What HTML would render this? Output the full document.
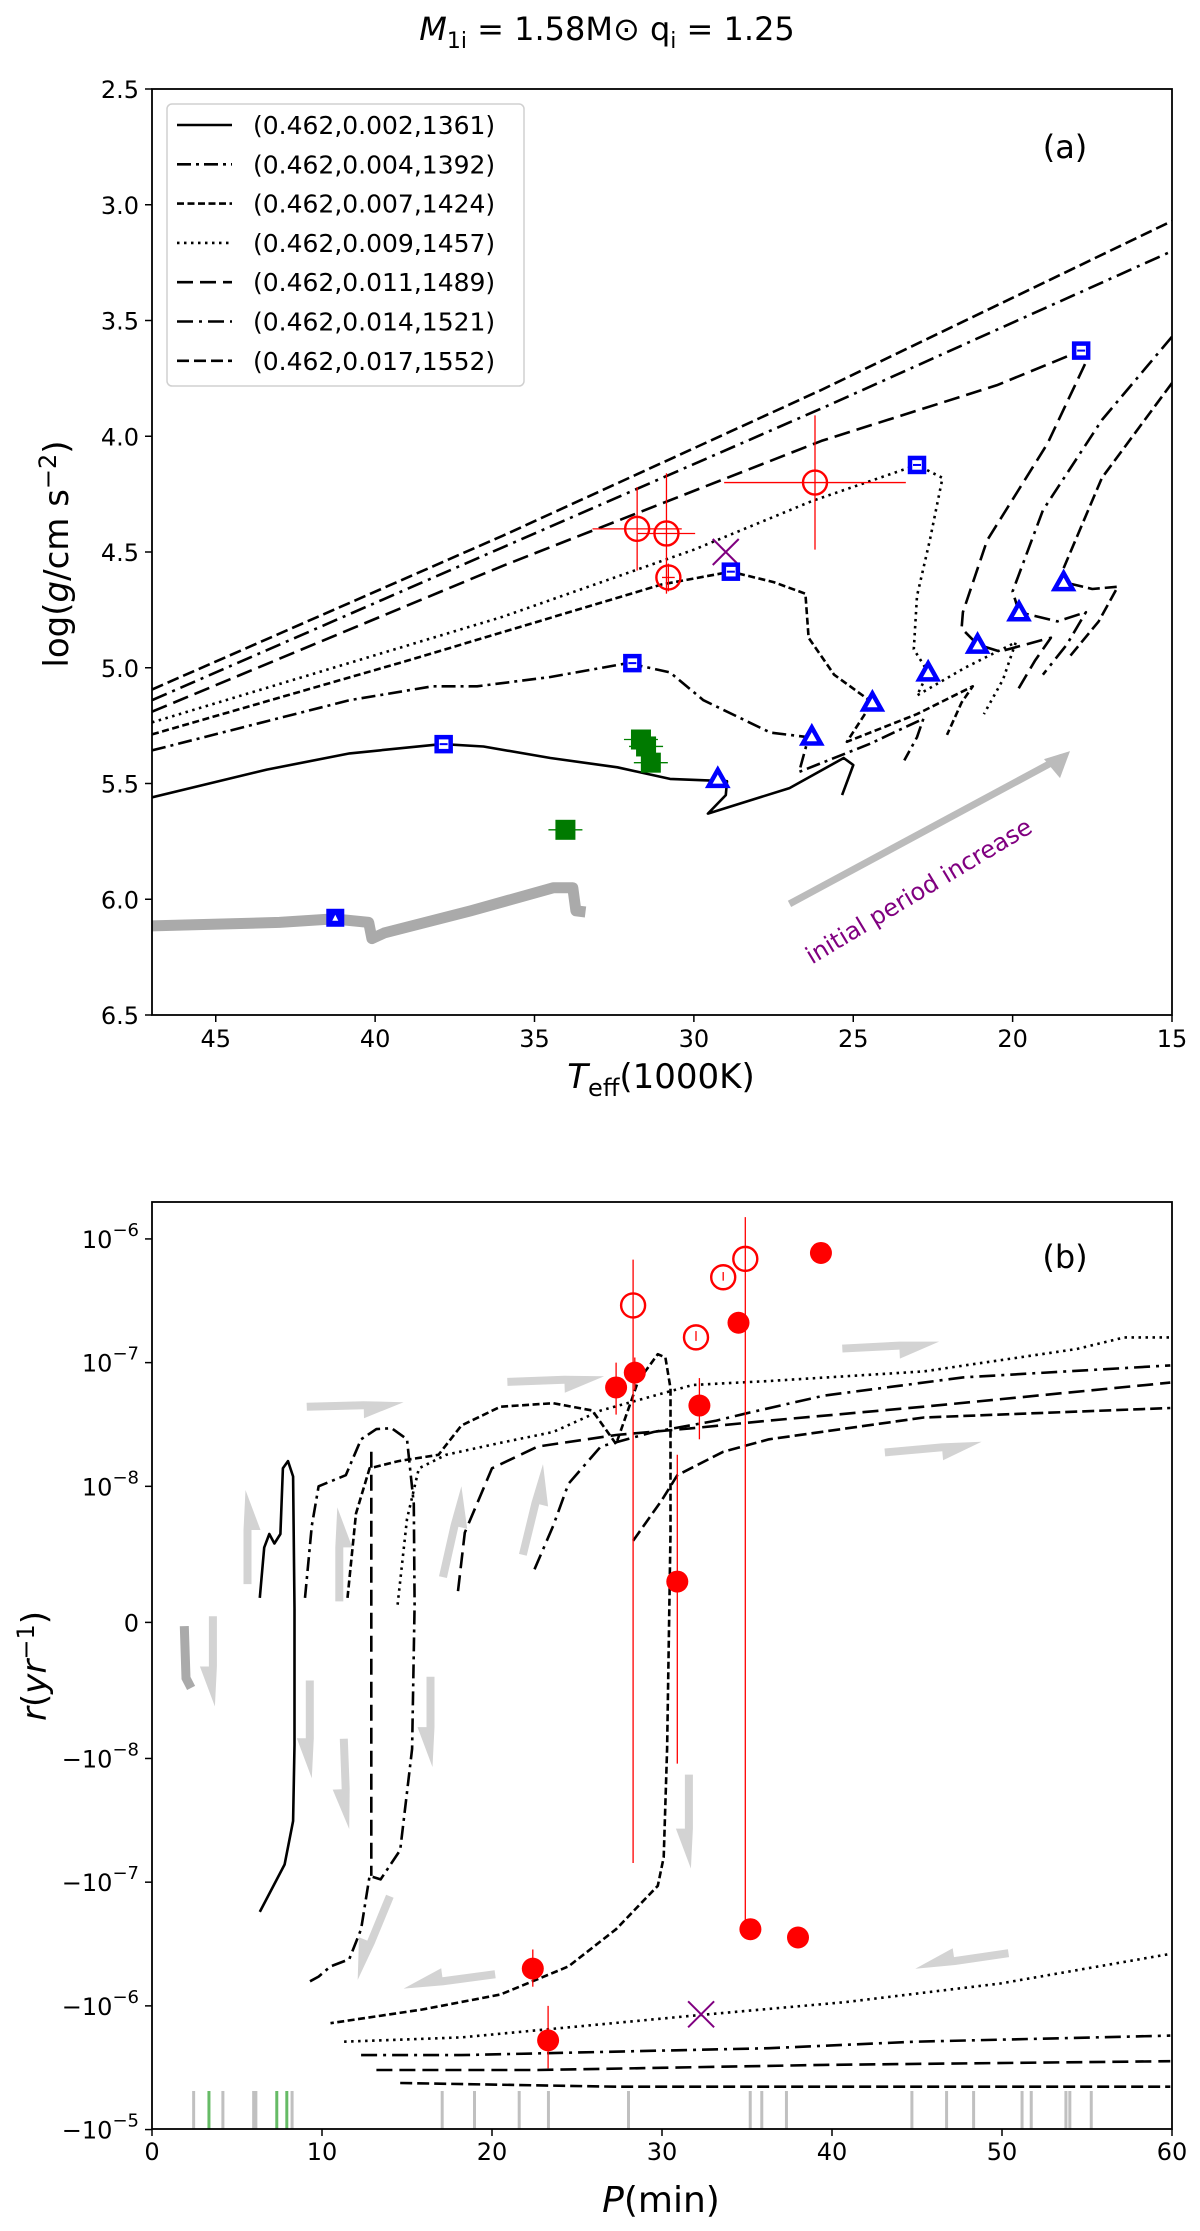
<!DOCTYPE html>
<html><head><meta charset="utf-8">
<style>
html,body{margin:0;padding:0;background:#fff;}
svg{display:block;font-family:"DejaVu Sans","Liberation Sans",sans-serif;}
</style></head>
<body>
<svg id="fig" width="1200" height="2231" viewBox="0 0 1200 2231" xmlns="http://www.w3.org/2000/svg">
<text x="607" y="40" font-size="32" text-anchor="middle"><tspan font-style="italic">M</tspan><tspan font-size="22" dy="8">1i</tspan><tspan dy="-8"> = 1.58M</tspan><tspan>⊙</tspan><tspan> q</tspan><tspan font-size="22" dy="8">i</tspan><tspan dy="-8"> = 1.25</tspan></text>
<g id="panelA"></g>
<g id="panelB"></g>
</svg>
<script>
// ---------------- Panel (a) data: [Teff(1000K), log g] ----------------
const trackA_0002 = [[47,5.56],[43.4,5.44],[40.8,5.37],[37.9,5.33],[36.6,5.34],[34.5,5.39],[32.4,5.43],[30.75,5.48],[28.96,5.49],[29.0,5.55],[29.56,5.63],[27,5.52],[25.3,5.39],[25.0,5.42],[25.35,5.55]];
const trackA_0004 = [[47,5.357],[40.8,5.14],[38.2,5.08],[36.8,5.08],[34.5,5.04],[32.07,4.98],[30.75,5.02],[29.7,5.14],[27.6,5.28],[26.4,5.30],[26.7,5.45],[24.5,5.33],[22.8,5.22],[23.0,5.30],[23.4,5.40]];
const trackA_0007 = [[47,5.288],[39,4.97],[31,4.64],[28.84,4.585],[27.5,4.63],[26.5,4.68],[26.4,4.87],[25.6,5.03],[24.4,5.15],[25.2,5.32],[23,5.2],[21.25,5.08],[21.6,5.15],[22.06,5.29]];
const trackA_0009 = [[47,5.236],[36,4.78],[30,4.49],[26.3,4.28],[23.0,4.124],[22.2,4.18],[22.6,4.45],[23.0,4.69],[23.1,4.92],[22.65,5.02],[23.0,5.12],[21.5,5.0],[19.9,4.89],[20.3,5.05],[20.9,5.2]];
const trackA_0011 = [[47,5.19],[36,4.56],[26,4.02],[20.5,3.78],[17.85,3.63],[17.7,3.68],[18.9,4.03],[20.8,4.45],[21.56,4.76],[21.6,4.83],[21.1,4.90],[20.4,4.93],[18.8,4.87],[19.3,4.97],[19.9,5.11]];
const trackA_0014 = [[47,5.14],[36,4.48],[26,3.88],[15,3.2]];
const trackA_0014b = [[15,3.57],[17.2,3.93],[19.05,4.32],[20.0,4.67],[19.8,4.76],[18.6,4.8],[17.7,4.76],[18.3,4.9],[19.05,5.03]];
const trackA_0017 = [[47,5.094],[36,4.43],[26,3.8],[15,3.07]];
const trackA_0017b = [[15,3.77],[17.2,4.18],[18.4,4.57],[18.4,4.63],[17.5,4.66],[16.7,4.65],[17.3,4.8],[18.2,4.95]];
const greyTrackA = [[47,6.115],[43,6.1],[41.3,6.085],[40.2,6.10],[40.1,6.17],[39.7,6.145],[37,6.05],[34.4,5.95],[33.8,5.95],[33.7,6.05],[33.4,6.055]];
const squaresA = [[37.85,5.33],[31.93,4.98],[28.84,4.585],[23.0,4.124],[17.85,3.63]];
const trianglesA = [[29.25,5.48],[26.3,5.297],[24.4,5.15],[22.65,5.02],[21.1,4.90],[19.8,4.76],[18.4,4.63]];
const obsTeffA = [31.78,30.86,30.8,26.2];
const obsLoggA = [4.40,4.42,4.61,4.20];
const obsTeffErrA = [1.4,0.9,0.2,2.85];
const obsLoggErrA = [0.18,0.26,0.06,0.29];
const greenTeffA = [31.66,31.5,31.35,34.03];
const greenLoggA = [5.31,5.34,5.41,5.70];
const crossA = [29.0,4.5];
const blueFilledA = [41.25,6.08];

// ---------------- Panel (b) data: [P(min), r(1/yr)] ----------------
const trackB_0002 = [[6.34,1.8e-9],[6.6,5.5e-9],[6.9,6.5e-9],[7.2,5.8e-9],[7.55,6.5e-9],[7.7,1.4e-8],[8.0,1.6e-8],[8.3,1.2e-8],[8.38,1e-9],[8.38,-9e-9],[8.3,-3.2e-8],[7.8,-7.2e-8],[6.34,-1.74e-7]];
const trackB_0004 = [[9.0,1.8e-9],[9.4,7.1e-9],[9.8,1.0e-8],[11.4,1.23e-8],[12.3,2.4e-8],[13.2,2.9e-8],[14.1,2.95e-8],[15.0,2.4e-8],[15.4,8.7e-9],[15.45,1.3e-9],[15.3,-9.3e-9],[14.6,-5.5e-8],[13.45,-9.5e-8],[12.8,-8.9e-8],[12.3,-2.4e-7],[11.6,-4.2e-7],[10.5,-4.8e-7],[9.8,-5.8e-7],[9.06,-6.6e-7]];
const trackB_0007 = [[11.5,1.8e-9],[12.0,8e-9],[12.8,1.4e-8],[14.5,1.6e-8],[16.85,1.8e-8],[18.2,3.1e-8],[20.5,4.4e-8],[23.6,4.7e-8],[25.9,4.1e-8],[27.3,2.2e-8],[28.6,7.1e-8],[29.75,1.17e-7],[30.2,1.1e-7],[30.5,6.2e-8],[30.5,6.6e-9],[30.3,-9.3e-9],[30.1,-6.3e-8],[29.75,-1.07e-7],[27.3,-2.4e-7],[24.5,-4.8e-7],[20.5,-8.1e-7],[15.9,-1.07e-6],[10.5,-1.38e-6]];
const trackB_0009 = [[14.45,1.3e-9],[15.0,7.6e-9],[15.7,1.4e-8],[17.3,1.8e-8],[20.5,2.25e-8],[23.6,2.75e-8],[26.4,4.1e-8],[31.8,6.6e-8],[36.3,7.1e-8],[45.4,8.5e-8],[54.4,1.29e-7],[57.2,1.6e-7],[59.9,1.6e-7]];
const trackB_0009b = [[11.3,-1.95e-6],[18.2,-1.8e-6],[31.8,-1.2e-6],[40.85,-9.3e-7],[49.9,-6.6e-7],[59.9,-3.8e-7]];
const trackB_0011 = [[18.0,2.3e-9],[18.4,6.6e-9],[20.0,1.4e-8],[22.7,2.1e-8],[27.3,2.6e-8],[31.8,2.95e-8],[36.3,3.4e-8],[45.4,4.4e-8],[59.9,6.9e-8]];
const trackB_0011v = [[12.9,1.9e-8],[12.9,-8.9e-8]];
const trackB_0011b = [[13.2,-3.3e-6],[22.7,-3.3e-6],[39.5,-3.0e-6],[59.9,-2.8e-6]];
const trackB_0014 = [[22.5,3.9e-9],[23.6,7.1e-9],[24.5,1.05e-8],[26.4,2.1e-8],[29.5,2.75e-8],[33.2,3.4e-8],[35.0,3.9e-8],[39.5,5.4e-8],[47.7,7.6e-8],[59.9,9.5e-8]];
const trackB_0014b = [[12.3,-2.5e-6],[18.2,-2.5e-6],[36.3,-2.2e-6],[44.9,-1.95e-6],[59.9,-1.74e-6]];
const trackB_0017 = [[28.3,6e-9],[30.0,9e-9],[30.9,1.23e-8],[33.6,1.9e-8],[36.3,2.4e-8],[45.4,3.6e-8],[59.9,4.3e-8]];
const trackB_0017b = [[14.6,-4.2e-6],[27.3,-4.5e-6],[59.9,-4.5e-6]];
const filledP = [27.3,28.4,32.2,34.5,39.35,30.9,35.2,38.0,22.4,23.3];
const filledR = [6.3e-8,8.3e-8,4.5e-8,2.1e-7,7.7e-7,3.0e-9,-2.4e-7,-2.8e-7,-5e-7,-1.9e-6];
const filledLo = [3.8e-8,6.0e-8,2.4e-8,2.1e-7,7.7e-7,-1.1e-8,-2.4e-7,-2.8e-7,-3.5e-7,-1.0e-6];
const filledHi = [1.0e-7,1.1e-7,7.5e-8,2.1e-7,7.7e-7,1.8e-8,-2.4e-7,-2.8e-7,-7e-7,-3.2e-6];
const openP = [28.3,32.0,33.6,34.9];
const openR = [2.9e-7,1.6e-7,4.9e-7,6.9e-7];
const openLo = [-7e-8,1.5e-7,4.6e-7,-2.4e-7];
const openHi = [6.8e-7,1.8e-7,5.4e-7,1.5e-6];
const crossB = [32.3,-1.17e-6];
const rugGreyP = [2.45,4.17,5.98,6.11,8.24,17.07,18.97,21.6,23.32,28.03,35.19,35.87,37.32,44.7,46.74,48.33,51.18,51.72,53.76,53.99,55.25];
const rugGreenP = [3.35,7.34,7.93];
const xTicksB = [0,10,20,30,40,50,60];
const yTicksB = [1e-6,1e-7,1e-8,0,-1e-8,-1e-7,-1e-6,-1e-5];
const yTickLabelsB = [["10","−6"],["10","−7"],["10","−8"],["0",""],["−10","−8"],["−10","−7"],["−10","−6"],["−10","−5"]];
const xTicksA = [45,40,35,30,25,20,15];
const yTicksA = [2.5,3.0,3.5,4.0,4.5,5.0,5.5,6.0,6.5];
const legendLabels = ["(0.462,0.002,1361)","(0.462,0.004,1392)","(0.462,0.007,1424)","(0.462,0.009,1457)","(0.462,0.011,1489)","(0.462,0.014,1521)","(0.462,0.017,1552)"];
const arrowsB = [[9.1,1.76,14.8,1.78],[20.9,1.96,26.6,1.99],[40.6,2.23,46.3,2.27],[43.1,1.39,48.8,1.46],[5.5,0.31,5.5,1.07],[10.9,0.17,10.9,0.93],[17.0,0.37,18.2,1.10],[21.7,0.55,23.0,1.28],[3.7,0.05,3.7,-0.68],[9.4,-0.47,9.4,-1.26],[11.4,-0.94,11.6,-1.67],[16.5,-0.44,16.5,-1.17],[31.7,-1.23,31.7,-1.99],[14.1,-2.22,12.1,-2.89],[20.2,-2.86,14.8,-2.96],[50.4,-2.69,44.9,-2.80]];

const NS = "http://www.w3.org/2000/svg";
const dashes = {s:"", dd:"14,5,3,5", d:"7,3.5", dot:"2.5,4.5", ld:"16,7", ldd:"16,6,3,6", md:"12,5"};
const styleList = ["s","dd","d","dot","ld","ldd","md"];

function mk(parent, tag, attrs){ const e=document.createElementNS(NS,tag); for(const k in attrs) e.setAttribute(k,attrs[k]); parent.appendChild(e); return e; }

const xA = T => 152 + (47 - T) * 31.875;
const yA = g => 89 + (g - 2.5) * 231.5;
const L = 1.1;
const xB = P => 152 + P * 17;
function uOf(r){ const a=Math.abs(r); if(a<1e-8) return r/1e-8*L; return Math.sign(r)*(L+Math.log10(a)+8); }
const yU = u => 1622.4 - u * 123.7;
const yB = r => yU(uOf(r));

function poly(parent, pts, fx, fy, dash, name, w, col){
  const d = pts.map((p,i)=>(i?'L':'M')+fx(p[0]).toFixed(1)+','+fy(p[1]).toFixed(1)).join(' ');
  const el = mk(parent,'path',{d:d,fill:'none',stroke:col||'#000','stroke-width':w||2.6,'stroke-dasharray':dash,'stroke-linejoin':'round'});
  
  
  return el;
}

// ---------------- Panel A ----------------
const A = document.getElementById('panelA');
mk(A,'defs',{}).innerHTML='<clipPath id="clipA"><rect x="152" y="89" width="1020" height="926"/></clipPath><clipPath id="clipB"><rect x="152" y="1202" width="1020" height="927"/></clipPath>';
const gA = mk(A,'g',{'clip-path':'url(#clipA)'});


poly(gA, greyTrackA, xA, yA, '', 'grey-track', 11, '#aaaaaa');
const tracksA = [[trackA_0002],[trackA_0004],[trackA_0007],[trackA_0009],[trackA_0011],[trackA_0014,trackA_0014b],[trackA_0017,trackA_0017b]];
tracksA.forEach((segs,i)=>segs.forEach(s=>poly(gA, s, xA, yA, dashes[styleList[i]], 'track-a-'+i)));

{
  const x1=xA(27.0),y1=yA(6.02),x2=xA(18.2),y2=yA(5.36);
  const ln = mk(gA,'line',{x1:x1,y1:y1,x2:x2-8,y2:y2+6,stroke:'#bbbbbb','stroke-width':7});
  
  
  const hd = mk(gA,'polygon',{points:`${x2},${y2} ${x2-26},${y2+8} ${x2-10},${y2+27}`,fill:'#bbbbbb'});
  
  
  const t = mk(gA,'text',{x:923,y:898,'font-size':24,fill:'#800080','text-anchor':'middle',transform:'rotate(-31 923 898)'});
  t.textContent='initial period increase';
  
  
}
obsTeffA.forEach((T,i)=>{
  const g=obsLoggA[i];
  const e1=mk(gA,'line',{x1:xA(T+obsTeffErrA[i]),x2:xA(T-obsTeffErrA[i]),y1:yA(g),y2:yA(g),stroke:'red','stroke-width':1.3});
   
  const e2=mk(gA,'line',{x1:xA(T),x2:xA(T),y1:yA(g-obsLoggErrA[i]),y2:yA(g+obsLoggErrA[i]),stroke:'red','stroke-width':1.3});
   
  const c=mk(gA,'circle',{cx:xA(T),cy:yA(g),r:12,fill:'none',stroke:'red','stroke-width':2.4});
   
});
greenTeffA.forEach((T,i)=>{
  const g=greenLoggA[i];
  const e=mk(gA,'line',{x1:xA(T)-17,x2:xA(T)+17,y1:yA(g),y2:yA(g),stroke:'green','stroke-width':1.3});
   
  const r=mk(gA,'rect',{x:xA(T)-10,y:yA(g)-10,width:20,height:20,fill:'#007a00'});
   
});
{
  const cx=xA(crossA[0]),cy=yA(crossA[1]);
  const p=mk(gA,'path',{d:`M${cx-13},${cy-13}L${cx+13},${cy+13}M${cx-13},${cy+13}L${cx+13},${cy-13}`,stroke:'#800080','stroke-width':2});
   
}
squaresA.forEach(p=>{
  const r=mk(gA,'rect',{x:xA(p[0])-7,y:yA(p[1])-7,width:14,height:14,fill:'#fff',stroke:'#0000ff','stroke-width':4.5});
   
  const b=mk(gA,'rect',{x:xA(p[0])-4,y:yA(p[1])-1,width:8,height:2,fill:'#0000ff'});
   
});
trianglesA.forEach(p=>{
  const x=xA(p[0]),y=yA(p[1]);
  const t=mk(gA,'polygon',{points:`${x},${y-9} ${x-9},${y+7} ${x+9},${y+7}`,fill:'#fff',stroke:'#0000ff','stroke-width':4.5,'stroke-linejoin':'miter'});
   
});
{
  const x=xA(blueFilledA[0]),y=yA(blueFilledA[1]);
  const r=mk(gA,'rect',{x:x-9,y:y-9,width:18,height:18,fill:'#0000ff'});
   
  const t=mk(gA,'polygon',{points:`${x},${y-3} ${x-3},${y+3} ${x+3},${y+3}`,fill:'#fff'});
   
}
{
  const f=mk(A,'rect',{x:152,y:89,width:1020,height:926,fill:'none',stroke:'#000','stroke-width':1.8});
   
  xTicksA.forEach(t=>{
    const l=mk(A,'line',{x1:xA(t),x2:xA(t),y1:1015,y2:1022,stroke:'#000','stroke-width':1.5});
     
    const tx=mk(A,'text',{x:xA(t),y:1047,'font-size':24,'text-anchor':'middle'}); tx.textContent=t;
     
  });
  yTicksA.forEach(t=>{
    const l=mk(A,'line',{x1:145,x2:152,y1:yA(t),y2:yA(t),stroke:'#000','stroke-width':1.5});
     
    const tx=mk(A,'text',{x:139,y:yA(t)+9,'font-size':24,'text-anchor':'end'}); tx.textContent=t.toFixed(1);
     
  });
  const xl=mk(A,'text',{x:661,y:1088,'font-size':34,'text-anchor':'middle'});
  xl.innerHTML='<tspan font-style="italic">T</tspan><tspan font-size="24" dy="8">eff</tspan><tspan dy="-8">(1000K)</tspan>';
   
  const yl=mk(A,'text',{x:68,y:554,'font-size':34,'text-anchor':'middle',transform:'rotate(-90 68 554)'});
  yl.innerHTML='log(<tspan font-style="italic">g</tspan>/cm s<tspan font-size="24" dy="-12">−2</tspan><tspan dy="12">)</tspan>';
   
  const pl=mk(A,'text',{x:1065,y:158,'font-size':32,'text-anchor':'middle'}); pl.textContent='(a)';
   
  const lg=mk(A,'g',{});
   
  const box=mk(lg,'rect',{x:167,y:104,width:357,height:282,rx:5,fill:'#fff','fill-opacity':0.85,stroke:'#d0d0d0','stroke-width':1.5});
   
  legendLabels.forEach((lab,i)=>{
    const y=125+i*39.3;
    const ln=mk(lg,'line',{x1:177,x2:232,y1:y,y2:y,stroke:'#000','stroke-width':2.6,'stroke-dasharray':dashes[styleList[i]]});
     
    const tx=mk(lg,'text',{x:253,y:y+9,'font-size':25}); tx.textContent=lab;
     
  });
}

// ---------------- Panel B ----------------
const B = document.getElementById('panelB');
const gB = mk(B,'g',{'clip-path':'url(#clipB)'});


arrowsB.forEach(a=>{
  const x1=xB(a[0]),y1=yU(a[1]),x2=xB(a[2]),y2=yU(a[3]);
  const dx=x2-x1,dy=y2-y1,len=Math.hypot(dx,dy),ux=dx/len,uy=dy/len,nx=-uy,ny=ux;
  const hl=Math.min(40,len*0.45), w=6, hw=15;
  const bx=x2-ux*hl, by=y2-uy*hl;
  const pts=[[x1+nx*w,y1+ny*w],[bx+nx*w,by+ny*w],[bx+nx*hw,by+ny*hw],[x2,y2],[bx-nx*2,by-ny*2],[x1-nx*2,y1-ny*2]];
  const p=mk(gB,'polygon',{points:pts.map(q=>q[0].toFixed(1)+','+q[1].toFixed(1)).join(' '),fill:'#d3d3d3'});
   
});
{
  const p=mk(gB,'path',{d:`M${xB(1.9)},${yU(-0.03)} L${xB(2.0)},${yU(-0.45)} L${xB(2.3)},${yU(-0.53)}`,fill:'none',stroke:'#aaaaaa','stroke-width':9});
   
}
rugGreyP.forEach(P=>{
  const l=mk(gB,'line',{x1:xB(P),x2:xB(P),y1:2091,y2:2129,stroke:'#c0c0c0','stroke-width':3});
   
});
rugGreenP.forEach(P=>{
  const l=mk(gB,'line',{x1:xB(P),x2:xB(P),y1:2091,y2:2129,stroke:'#66bb66','stroke-width':3});
   
});
const tracksB = [[trackB_0002],[trackB_0004],[trackB_0007],[trackB_0009,trackB_0009b],[trackB_0011,trackB_0011v,trackB_0011b],[trackB_0014,trackB_0014b],[trackB_0017,trackB_0017b]];
tracksB.forEach((segs,i)=>segs.forEach(s=>poly(gB, s, xB, yB, dashes[styleList[i]], 'track-b-'+i)));
openP.forEach((P,i)=>{
  const l=mk(gB,'line',{x1:xB(P),x2:xB(P),y1:yB(openLo[i]),y2:yB(openHi[i]),stroke:'red','stroke-width':1.3});
   
  const c=mk(gB,'circle',{cx:xB(P),cy:yB(openR[i]),r:12,fill:'none',stroke:'red','stroke-width':2.4});
   
});
filledP.forEach((P,i)=>{
  const l=mk(gB,'line',{x1:xB(P),x2:xB(P),y1:yB(filledLo[i]),y2:yB(filledHi[i]),stroke:'red','stroke-width':1.3});
   
  const c=mk(gB,'circle',{cx:xB(P),cy:yB(filledR[i]),r:11,fill:'red'});
   
});
{
  const cx=xB(crossB[0]),cy=yB(crossB[1]);
  const p=mk(gB,'path',{d:`M${cx-13},${cy-13}L${cx+13},${cy+13}M${cx-13},${cy+13}L${cx+13},${cy-13}`,stroke:'#800080','stroke-width':2});
   
}
{
  const f=mk(B,'rect',{x:152,y:1202,width:1020,height:927,fill:'none',stroke:'#000','stroke-width':1.8});
   
  xTicksB.forEach(t=>{
    const l=mk(B,'line',{x1:xB(t),x2:xB(t),y1:2129,y2:2136,stroke:'#000','stroke-width':1.5});
     
    const tx=mk(B,'text',{x:xB(t),y:2160,'font-size':24,'text-anchor':'middle'}); tx.textContent=t;
     
  });
  yTicksB.forEach((t,i)=>{
    const y=yB(t);
    const l=mk(B,'line',{x1:145,x2:152,y1:y,y2:y,stroke:'#000','stroke-width':1.5});
     
    const lab=yTickLabelsB[i];
    const tx=mk(B,'text',{x:139,y:y+9,'font-size':24,'text-anchor':'end'});
    if(lab[1]) tx.innerHTML=lab[0]+'<tspan font-size="18" dy="-12">'+lab[1]+'</tspan>';
    else tx.textContent=lab[0];
     
  });
  const xl=mk(B,'text',{x:661,y:2212,'font-size':36,'text-anchor':'middle'});
  xl.innerHTML='<tspan font-style="italic">P</tspan>(min)';
   
  const yl=mk(B,'text',{x:46,y:1666,'font-size':34,'text-anchor':'middle',transform:'rotate(-90 46 1666)'});
  yl.innerHTML='<tspan font-style="italic">r</tspan>(<tspan font-style="italic">yr</tspan><tspan font-size="24" dy="-12">−1</tspan><tspan dy="12">)</tspan>';
   
  const pl=mk(B,'text',{x:1065,y:1268,'font-size':32,'text-anchor':'middle'}); pl.textContent='(b)';
   
}
</script>
</body></html>
